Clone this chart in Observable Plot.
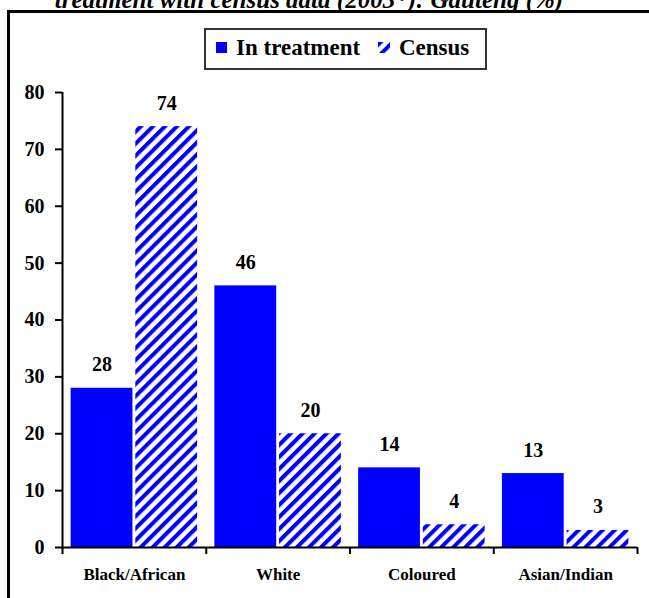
<!DOCTYPE html>
<html>
<head>
<meta charset="utf-8">
<script src="https://cdn.jsdelivr.net/npm/d3@7"></script>
<script src="https://cdn.jsdelivr.net/npm/@observablehq/plot@0.6"></script>
<style>
  html, body { margin: 0; padding: 0; background: #fff; }
  #page { position: relative; width: 649px; height: 598px; overflow: hidden; background: #fff;
          font-family: 'Liberation Serif', serif; font-weight: bold; }
  #title { position: absolute; left: 49px; width: 520px; top: -13px; line-height: 25px;
           font-size: 25px; font-style: italic; text-align: center; white-space: nowrap; }
  #frame { position: absolute; left: 7px; top: 10px; width: 720px; height: 720px;
           border: 3px solid #000; box-sizing: border-box; }
  #chart { position: absolute; left: 0; top: 0; }
  #legend { position: absolute; left: 204px; top: 28px; width: 283px; height: 42px;
            border: 2px solid #333; box-sizing: border-box; background: #fff; }
  #legend .sw { position: absolute; }
  #legend .lab { position: absolute; font-size: 23px; line-height: 23px; white-space: nowrap; }
</style>
</head>
<body>
<div id="page">
  <div id="title">treatment with census data (2003*): Gauteng (%)</div>
  <div id="frame"></div>
  <div id="chart"></div>
  <div id="legend"></div>
</div>
<script>
// Population groups and their shares (%)
const categories = ["Black/African", "White", "Coloured", "Asian/Indian"];
const inTreatment = [28, 46, 14, 13];
const census = [74, 20, 4, 3];
const seriesNames = ["In treatment", "Census"];
const yTicks = [0, 10, 20, 30, 40, 50, 60, 70, 80];

const blue = "#0000ff";
const serif = "'Liberation Serif', serif";

// Each group occupies one unit on the x scale; the two bars sit side by side
const slots = {
  "In treatment": [0.06, 0.49],
  "Census": [0.51, 0.94]
};
const rows = categories.flatMap((c, i) => [
  {i, category: c, series: seriesNames[0], value: inTreatment[i]},
  {i, category: c, series: seriesNames[1], value: census[i]}
]);
const fills = {"In treatment": blue, "Census": "url(#hatch)"};

const chart = Plot.plot({
  width: 649,
  height: 598,
  marginLeft: 62,
  marginRight: 12,
  marginTop: 92,
  marginBottom: 51,
  style: {background: "transparent", fontFamily: serif,
          fontWeight: "bold", fontSize: "20px", color: "#000"},
  x: {type: "linear", domain: [0, categories.length]},
  y: {domain: [0, 80]},
  marks: [
    Plot.rectY(rows.filter(d => d.series === "In treatment"), {
      x1: d => d.i + slots[d.series][0], x2: d => d.i + slots[d.series][1],
      y: "value", fill: blue
    }),
    Plot.rectY(rows.filter(d => d.series === "Census"), {
      x1: d => d.i + slots[d.series][0], x2: d => d.i + slots[d.series][1],
      y: "value", fill: "url(#hatch)"
    }),
    Plot.text(rows, {
      x: d => d.i + (slots[d.series][0] + slots[d.series][1]) / 2,
      y: "value", text: d => String(d.value),
      dy: -17, lineAnchor: "bottom", fontSize: 20, fill: "#000"
    }),
    Plot.axisY({ticks: yTicks, tickSize: 7, tickPadding: 11, strokeWidth: 2,
                tickFormat: d => String(d), label: null, fontSize: 20}),
    Plot.axisX({ticks: d3.range(categories.length + 1), tickSize: 7, strokeWidth: 2,
                tickFormat: () => "", label: null}),
    Plot.text(categories, {
      x: (d, i) => i + 0.5, y: 0, text: d => d,
      dy: 32, lineAnchor: "bottom", fontSize: 17, fill: "#000"
    }),
    Plot.ruleY([0], {stroke: "#000", strokeWidth: 2}),
    Plot.ruleX([0], {stroke: "#000", strokeWidth: 2})
  ]
});

// Diagonal hatch used for the census bars
const NS = "http://www.w3.org/2000/svg";
function addHatch(svg) {
  const defs = document.createElementNS(NS, "defs");
  const pat = document.createElementNS(NS, "pattern");
  pat.setAttribute("id", "hatch");
  pat.setAttribute("patternUnits", "userSpaceOnUse");
  pat.setAttribute("width", "8.5");
  pat.setAttribute("height", "8.5");
  pat.setAttribute("patternTransform", "rotate(45)");
  const bg = document.createElementNS(NS, "rect");
  bg.setAttribute("width", "8.5"); bg.setAttribute("height", "8.5"); bg.setAttribute("fill", "#fff");
  const st = document.createElementNS(NS, "rect");
  st.setAttribute("width", "4"); st.setAttribute("height", "8.5"); st.setAttribute("fill", blue);
  pat.appendChild(bg); pat.appendChild(st); defs.appendChild(pat);
  svg.insertBefore(defs, svg.firstChild);
}
addHatch(chart);
document.getElementById("chart").appendChild(chart);

// Legend
const legend = document.getElementById("legend");
const items = [
  {name: seriesNames[0], sw: [10, 12, 11, 11], lab: 30},
  {name: seriesNames[1], sw: [172, 12, 12, 11], lab: 193}
];
for (const it of items) {
  const s = document.createElementNS(NS, "svg");
  s.setAttribute("class", "sw");
  s.setAttribute("width", it.sw[2]); s.setAttribute("height", it.sw[3]);
  s.style.left = it.sw[0] + "px"; s.style.top = it.sw[1] + "px";
  const r = document.createElementNS(NS, "rect");
  r.setAttribute("width", it.sw[2]); r.setAttribute("height", it.sw[3]);
  r.setAttribute("fill", fills[it.name]);
  s.appendChild(r);
  legend.appendChild(s);
  const t = document.createElement("div");
  t.className = "lab";
  t.textContent = it.name;
  t.style.left = it.lab + "px";
  t.style.top = "5.7px";
  legend.appendChild(t);
}
</script>
</body>
</html>
